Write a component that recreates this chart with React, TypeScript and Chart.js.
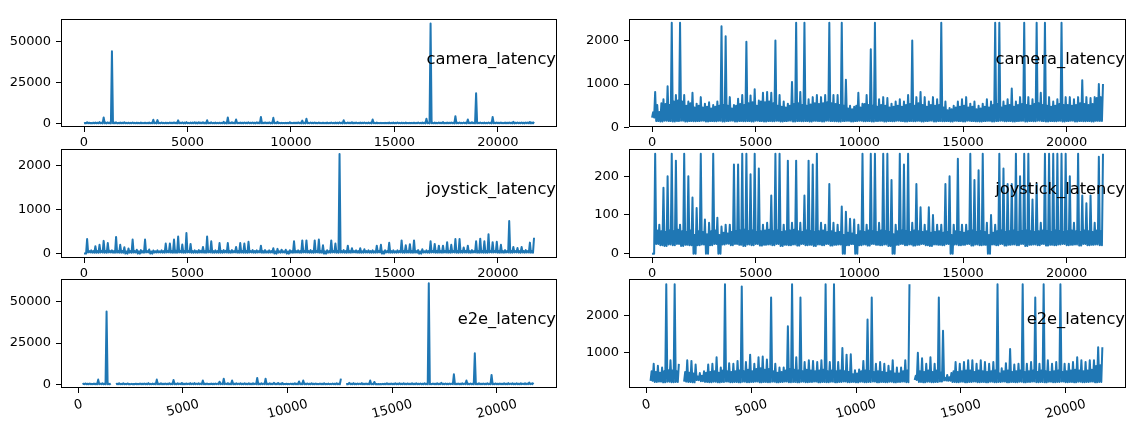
import React, { useEffect, useRef } from 'react';
import { Chart, registerables } from 'chart.js';

Chart.register(...registerables);

// ---- data, per 200-sample bin: band floor, dense band top, peak value ----
const BIN = 200;
const xTicks = [0, 5000, 10000, 15000, 20000];
const camLeftTicks = [0, 25000, 50000];
const camRightTicks = [0, 1000, 2000];
const joyLeftTicks = [0, 1000, 2000];
const joyRightTicks = [0, 100, 200];
const e2eLeftTicks = [0, 25000, 50000];
const e2eRightTicks = [1000, 2000];

const camLow = [
  230, 150, 140, 160, 150, 140, 150, 160, 140, 150,
  145, 150, 160, 140, 150, 145, 155, 140, 150, 160,
  140, 150, 145, 150, 140, 160, 150, 140, 150, 145,
  155, 140, 150, 160, 140, 150, 145, 150, 140, 155,
  150, 140, 160, 150, 145, 140, 150, 155, 140, 150,
  160, 145, 150, 140, 150, 155, 140, 150, 145, 160,
  150, 140, 150, 145, 155, 140, 150, 160, 140, 150,
  145, 150, 140, 155, 150, 140, 160, 150, 145, 140,
  150, 155, 140, 150, 160, 145, 150, 140, 150, 155,
  140, 150, 145, 160, 150, 140, 150, 145, 155, 140,
  150, 160, 140, 150, 145, 150, 140, 155, 150,
];
const camTop = [
  350, 520, 560, 540, 520, 600, 620, 600, 500, 560,
  460, 500, 460, 480, 440, 480, 500, 520, 500, 440,
  500, 540, 520, 560, 580, 500, 600, 580, 600, 560,
  500, 480, 460, 500, 540, 560, 520, 500, 530, 560,
  540, 560, 580, 560, 540, 520, 500, 440, 420, 500,
  460, 540, 520, 500, 480, 520, 500, 460, 480, 500,
  480, 520, 540, 500, 560, 520, 480, 520, 500, 520,
  460, 400, 420, 460, 480, 500, 460, 480, 420, 440,
  480, 460, 520, 540, 460, 500, 520, 480, 520, 540,
  520, 500, 540, 560, 520, 500, 480, 500, 540, 520,
  520, 500, 520, 560, 540, 520, 540, 680, 700,
];
const camPeak = [
  820, 360, 650, 950, 3700, 750, 44000, 750, 600, 800,
  550, 700, 550, 580, 520, 600, 2330, 2100, 700, 520,
  660, 750, 1970, 740, 880, 620, 800, 820, 800, 2000,
  750, 600, 550, 1050, 3700, 820, 2500, 650, 700, 750,
  700, 750, 4000, 750, 750, 3500, 1100, 500, 480, 800,
  550, 750, 1800, 3000, 650, 700, 680, 550, 600, 650,
  600, 750, 2000, 700, 820, 700, 600, 700, 650, 2500,
  600, 450, 500, 600, 650, 700, 550, 600, 500, 550,
  650, 600, 3000, 61000, 600, 650, 900, 600, 700, 4500,
  700, 650, 2500, 800, 18500, 700, 600, 650, 4000, 700,
  700, 650, 700, 1090, 700, 680, 700, 1000, 1000,
];
const camClip = 2410;

const joyLow = [
  0, 25, 22, 20, 24, 22, 25, 20, 23, 22,
  0, 22, 24, 0, 22, 25, 0, 24, 26, 22,
  25, 23, 20, 24, 22, 25, 21, 23, 24, 22,
  25, 20, 23, 22, 24, 21, 25, 22, 23, 20,
  24, 22, 25, 21, 23, 24, 0, 22, 25, 0,
  22, 24, 21, 25, 23, 22, 24, 20, 0, 23,
  25, 22, 24, 21, 23, 25, 22, 20, 24, 23,
  22, 25, 0, 24, 22, 23, 25, 21, 24, 22,
  23, 0, 24, 22, 25, 21, 23, 24, 22, 25,
  20, 23, 24, 22, 25, 21, 23, 22, 24, 25,
  22, 23, 24, 21, 25, 22, 23, 24, 22,
];
const joyTop = [
  0, 60, 58, 56, 60, 58, 62, 58, 56, 60,
  48, 58, 56, 50, 58, 60, 48, 54, 52, 56,
  58, 60, 62, 58, 60, 56, 58, 60, 62, 58,
  60, 56, 58, 60, 62, 58, 56, 60, 58, 56,
  58, 60, 56, 58, 54, 56, 48, 54, 52, 48,
  58, 56, 60, 58, 56, 60, 58, 56, 50, 58,
  60, 58, 56, 60, 58, 56, 58, 54, 56, 58,
  54, 56, 48, 58, 56, 54, 58, 60, 56, 58,
  56, 48, 54, 58, 60, 56, 58, 60, 56, 58,
  60, 58, 56, 58, 60, 58, 56, 60, 58, 56,
  58, 60, 58, 56, 60, 58, 56, 60, 58,
];
const joyPeak = [
  330, 75, 170, 200, 290, 240, 75, 380, 200, 145,
  118, 320, 88, 80, 320, 93, 70, 75, 75, 230,
  230, 320, 390, 205, 470, 220, 75, 80, 150, 390,
  280, 75, 240, 80, 240, 80, 150, 240, 230, 270,
  80, 75, 180, 80, 75, 122, 108, 90, 88, 75,
  280, 75, 300, 300, 80, 300, 320, 190, 75, 300,
  230, 2270, 80, 180, 120, 75, 120, 100, 75, 75,
  180, 200, 75, 245, 75, 75, 300, 190, 215, 300,
  80, 100, 75, 280, 220, 180, 180, 260, 200, 330,
  330, 140, 180, 80, 280, 340, 280, 440, 260, 270,
  200, 80, 740, 150, 130, 150, 80, 250, 360,
];
const joyClip = 258;

const e2eLow = [
  null, 240, 210, 220, 200, 215, 205, 210, null, 220,
  210, 200, 260, 230, 210, 205, 215, 200, 210, 220,
  205, 210, 200, 215, 205, 210, 220, 200, 210, 205,
  215, 200, 210, 220, 205, 210, 200, 215, 205, 210,
  220, 200, 210, 205, 215, 200, 210, 220, 205, 210,
  200, 215, 205, 210, 220, 200, 210, 205, 215, 200,
  210, 220, 205, null, 260, 210, 200, 215, 205, 210,
  220, 250, 240, 210, 205, 215, 200, 210, 220, 205,
  210, 200, 215, 205, 210, 220, 200, 210, 205, 215,
  200, 210, 220, 205, 210, 200, 215, 205, 210, 220,
  205, 210, 200, 215, 205, 210, 220, 200, 210,
];
const e2eTop = [
  null, 500, 480, 460, 500, 530, 520, 500, null, 480,
  460, 440, 360, 380, 460, 480, 500, 460, 520, 500,
  480, 500, 520, 500, 540, 500, 560, 580, 540, 560,
  500, 460, 480, 520, 560, 540, 520, 500, 540, 520,
  500, 520, 540, 500, 520, 500, 520, 500, 480, 420,
  440, 500, 520, 500, 480, 500, 480, 460, 500, 440,
  440, 500, 520, null, 380, 500, 480, 520, 480, 520,
  460, 320, 340, 500, 480, 500, 520, 520, 480, 520,
  500, 480, 500, 520, 440, 500, 520, 480, 500, 520,
  480, 500, 520, 480, 520, 500, 480, 500, 520, 480,
  500, 520, 540, 520, 500, 520, 540, 640, 660,
];
const e2ePeak = [
  null, 700, 650, 600, 3000, 800, 44000, 700, null, 800,
  780, 680, 450, 500, 680, 700, 880, 600, 3000, 720,
  700, 780, 2800, 750, 950, 700, 880, 900, 820, 2500,
  700, 600, 600, 1720, 3500, 880, 2500, 750, 800, 780,
  750, 800, 4000, 750, 3500, 750, 1130, 950, 960, 530,
  550, 780, 1900, 2500, 700, 750, 700, 650, 800, 600,
  600, 800, 3600, null, 1000, 850, 700, 880, 700, 2500,
  1600, 400, 450, 750, 700, 750, 800, 800, 700, 800,
  750, 700, 750, 61000, 580, 720, 1100, 680, 700, 6200,
  700, 750, 2500, 700, 18800, 800, 700, 750, 5800, 700,
  700, 750, 880, 800, 750, 800, 800, 1150, 1150,
];
const e2eClip = 2860;

const FONT = "'DejaVu Sans', 'Liberation Sans', sans-serif";
const BLUE = '#1f77b4';

type Num = number | null;

// one bin -> floor, band top, floor, peak (a min/max trace of the dense signal)
function buildPoints(low: Num[], top: Num[], peak: Num[], clip?: number) {
  const n = Math.min(low.length, top.length, peak.length);
  const c = (v: Num) => (v == null ? null : clip != null ? Math.min(v, clip) : v);
  const pts: { x: number; y: Num }[] = [];
  for (let i = 0; i < n; i++) {
    const x0 = i * BIN;
    pts.push({ x: x0, y: c(low[i]) });
    pts.push({ x: x0 + 50, y: c(top[i]) });
    pts.push({ x: x0 + 100, y: c(low[i]) });
    pts.push({ x: x0 + 150, y: c(peak[i]) });
  }
  return pts;
}

type Panel = {
  canvas: { left: number; top: number; width: number; height: number };
  area: { left: number; top: number; right: number; bottom: number };
  xMin: number; xMax: number;
  yMin: number; yMax: number;
  yTicks: number[];
  label: string;
  low: Num[]; top: Num[]; peak: Num[]; clip?: number;
  rotated: boolean;
};

const ROWS = [
  { cTop: 0, cH: 149, top: 19, bottom: 127 },
  { cTop: 141, cH: 139, top: 149, bottom: 258 },
  { cTop: 271, cH: 155, top: 279, bottom: 388 },
];
const COLS = [
  { cLeft: 0, cW: 565, left: 61, right: 557 },
  { cLeft: 565, cW: 583, left: 629, right: 1126 },
];

function makePanel(r: number, c: number, spec: Omit<Panel, 'canvas' | 'area'>): Panel {
  const R = ROWS[r];
  const C = COLS[c];
  return {
    ...spec,
    canvas: { left: C.cLeft, top: R.cTop, width: C.cW, height: R.cH },
    area: { left: C.left - C.cLeft, top: R.top - R.cTop, right: C.right - C.cLeft, bottom: R.bottom - R.cTop },
  };
}

const PANELS: Panel[] = [
  makePanel(0, 0, { xMin: -1112, xMax: 22860, yMin: -2083, yMax: 63725, yTicks: camLeftTicks, label: 'camera_latency', low: camLow, top: camTop, peak: camPeak, rotated: false }),
  makePanel(0, 1, { xMin: -1112, xMax: 22860, yMin: 14, yMax: 2494, yTicks: camRightTicks, label: 'camera_latency', low: camLow, top: camTop, peak: camPeak, clip: camClip, rotated: false }),
  makePanel(1, 0, { xMin: -1112, xMax: 22860, yMin: -100, yMax: 2382, yTicks: joyLeftTicks, label: 'joystick_latency', low: joyLow, top: joyTop, peak: joyPeak, rotated: false }),
  makePanel(1, 1, { xMin: -1112, xMax: 22860, yMin: -11, yMax: 270, yTicks: joyRightTicks, label: 'joystick_latency', low: joyLow, top: joyTop, peak: joyPeak, clip: joyClip, rotated: false }),
  makePanel(2, 0, { xMin: -828, xMax: 22878, yMin: -2058, yMax: 63560, yTicks: e2eLeftTicks, label: 'e2e_latency', low: e2eLow, top: e2eTop, peak: e2ePeak, rotated: true }),
  makePanel(2, 1, { xMin: -828, xMax: 22878, yMin: 46, yMax: 3000, yTicks: e2eRightTicks, label: 'e2e_latency', low: e2eLow, top: e2eTop, peak: e2ePeak, clip: e2eClip, rotated: true }),
];

function makeChart(canvas: HTMLCanvasElement, p: Panel) {
  const { area, canvas: cv } = p;
  const yWidth = area.left;
  const xHeight = cv.height - area.bottom;
  const decor = {
    id: 'decor',
    afterDraw(chart: any) {
      const ctx = chart.ctx as CanvasRenderingContext2D;
      const a = chart.chartArea;
      ctx.save();
      ctx.strokeStyle = '#000';
      ctx.lineWidth = 1;
      ctx.strokeRect(a.left + 0.5, a.top + 0.5, a.right - a.left - 1, a.bottom - a.top - 1);
      ctx.fillStyle = '#000';
      ctx.font = `16.3px ${FONT}`;
      ctx.textAlign = 'right';
      ctx.textBaseline = 'alphabetic';
      ctx.fillText(p.label, a.right - 1, a.top + 44.5);
      if (p.rotated) {
        const xs = chart.scales.x;
        ctx.font = `13px ${FONT}`;
        ctx.textAlign = 'center';
        ctx.textBaseline = 'middle';
        const ang = (15 * Math.PI) / 180;
        const top = a.bottom + 9.8;
        for (const v of xTicks) {
          const px = xs.getPixelForValue(v);
          const t = String(v);
          const w = ctx.measureText(t).width;
          const H = w * Math.sin(ang) + 13 * Math.cos(ang);
          ctx.save();
          ctx.translate(px, top + H / 2);
          ctx.rotate(-ang);
          ctx.fillText(t, 0, 0);
          ctx.restore();
        }
      }
      ctx.restore();
    },
  };
  return new Chart(canvas, {
    type: 'line',
    data: {
      datasets: [
        {
          data: buildPoints(p.low, p.top, p.peak, p.clip),
          borderColor: BLUE,
          borderWidth: 2,
          borderJoinStyle: 'round',
          pointRadius: 0,
          tension: 0,
          fill: false,
          spanGaps: false,
        } as any,
      ],
    },
    options: {
      responsive: false,
      animation: false,
      devicePixelRatio: 1,
      events: [],
      layout: { padding: { left: 0, top: area.top, right: cv.width - area.right, bottom: 0 } },
      plugins: { legend: { display: false }, tooltip: { enabled: false }, title: { display: false } },
      scales: {
        x: {
          type: 'linear',
          min: p.xMin,
          max: p.xMax,
          afterBuildTicks: (s: any) => { s.ticks = xTicks.map((v) => ({ value: v })); },
          afterFit: (s: any) => { s.height = xHeight; s.paddingLeft = 0; s.paddingRight = 0; s.paddingTop = 0; s.paddingBottom = 0; },
          ticks: {
            display: !p.rotated,
            autoSkip: false,
            maxRotation: 0,
            minRotation: 0,
            padding: 3,
            color: '#000',
            font: { family: FONT, size: 13 },
            callback: (v: any) => String(v),
          },
          grid: { display: true, drawOnChartArea: false, drawTicks: true, tickLength: 5, color: '#000', lineWidth: 1 },
          border: { display: false },
        },
        y: {
          type: 'linear',
          min: p.yMin,
          max: p.yMax,
          afterBuildTicks: (s: any) => { s.ticks = p.yTicks.map((v) => ({ value: v })); },
          afterFit: (s: any) => { s.width = yWidth; s.paddingLeft = 0; s.paddingRight = 0; s.paddingTop = 0; s.paddingBottom = 0; },
          ticks: {
            autoSkip: false,
            padding: 5,
            color: '#000',
            font: { family: FONT, size: 13 },
            callback: (v: any) => String(v),
          },
          grid: { display: true, drawOnChartArea: false, drawTicks: true, tickLength: 5, color: '#000', lineWidth: 1 },
          border: { display: false },
        },
      },
    } as any,
    plugins: [decor],
  });
}

export default function App() {
  const refs = useRef<(HTMLCanvasElement | null)[]>([]);
  useEffect(() => {
    const charts = PANELS.map((p, i) => makeChart(refs.current[i] as HTMLCanvasElement, p));
    return () => charts.forEach((c) => c.destroy());
  }, []);
  return (
    <div style={{ position: 'absolute', left: 0, top: 0, width: 1148, height: 426, background: '#fff', overflow: 'hidden' }}>
      {PANELS.map((p, i) => (
        <canvas
          key={i}
          ref={(el) => { refs.current[i] = el; }}
          width={p.canvas.width}
          height={p.canvas.height}
          style={{ position: 'absolute', left: p.canvas.left, top: p.canvas.top, width: p.canvas.width, height: p.canvas.height }}
        />
      ))}
    </div>
  );
}
